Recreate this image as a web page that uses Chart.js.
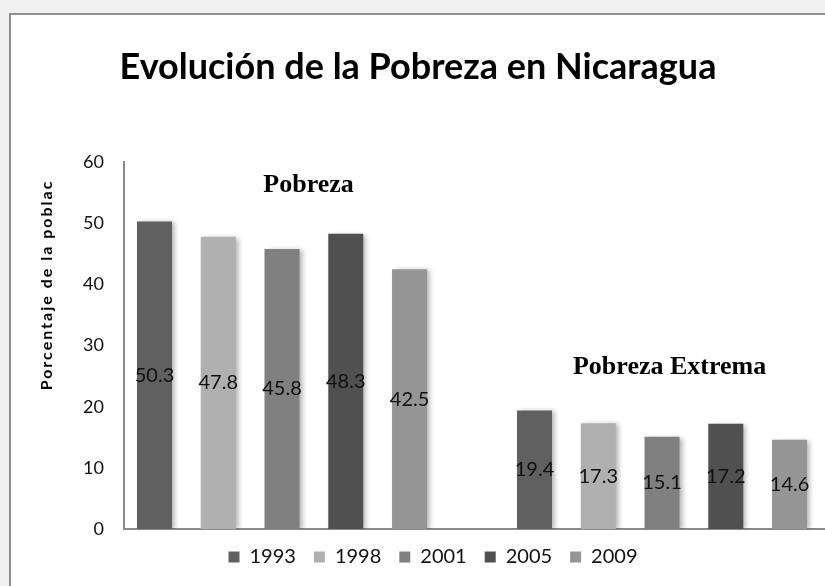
<!DOCTYPE html>
<html lang="es">
<head>
<meta charset="utf-8">
<title>Evolución de la Pobreza en Nicaragua</title>
<script src="https://cdn.jsdelivr.net/npm/chart.js@4.4.1/dist/chart.umd.min.js"></script>
<style>
    html, body {
        margin: 0;
        padding: 0;
        background: #f0f0f0;
        overflow: hidden;
    }
    #frame {
        position: absolute;
        left: 9px;
        top: 13px;
        width: 814px;
        height: 571px;
        border-top: 2px solid #8f8f8f;
        border-left: 2px solid #8f8f8f;
        background: #ffffff;
    }
</style>
</head>
<body>
<div id="frame">
    <canvas id="povertyChart"></canvas>
</div>
<script>
// Chart data
const groups = ['Pobreza', 'Pobreza Extrema'];
const years = ['1993', '1998', '2001', '2005', '2009'];
const values1993 = [50.3, 19.4];
const values1998 = [47.8, 17.3];
const values2001 = [45.8, 15.1];
const values2005 = [48.3, 17.2];
const values2009 = [42.5, 14.6];
const yTicks = [0, 10, 20, 30, 40, 50, 60];

const seriesValues = [values1993, values1998, values2001, values2005, values2009];
const barColors = ['#606060', '#b0b0b0', '#808080', '#505050', '#959595'];

// Group captions, placed in data space (group index, value)
const groupCaptions = [
    { text: groups[0], x: 0.07, y: 56.2 },
    { text: groups[1], x: 1.02, y: 26.5 }
];

const yTitle = 'Porcentaje de la poblac';

// Shadows, value labels inside bars and group captions
const barExtras = {
    id: 'barExtras',
    afterLayout(chart) {
        // legend sits a little right of centre in the original
        chart.legend.left += 15;
        chart.legend.right += 15;
    },
    beforeDatasetsDraw(chart) {
        const ctx = chart.ctx;
        ctx.save();
        ctx.shadowColor = 'rgba(0, 0, 0, 0.3)';
        ctx.shadowBlur = 5;
        ctx.shadowOffsetX = 3;
        ctx.shadowOffsetY = 1;
    },
    afterDatasetsDraw(chart) {
        const ctx = chart.ctx;
        ctx.restore();

        // values centred in each bar
        ctx.save();
        ctx.font = '20px Lato';
        ctx.fillStyle = '#111111';
        ctx.textAlign = 'center';
        ctx.textBaseline = 'middle';
        chart.data.datasets.forEach((ds, i) => {
            chart.getDatasetMeta(i).data.forEach((bar, j) => {
                const mid = (bar.y + bar.base) / 2;
                ctx.fillText(ds.data[j].y.toFixed(1), bar.x, mid);
            });
        });

        // group captions
        ctx.font = 'bold 26px "Liberation Serif"';
        ctx.fillStyle = '#000000';
        groupCaptions.forEach(c => {
            ctx.fillText(
                c.text,
                chart.scales.x.getPixelForValue(c.x),
                chart.scales.y.getPixelForValue(c.y)
            );
        });
        ctx.restore();
    },
    afterDraw(chart) {
        // rotated axis title
        const ctx = chart.ctx;
        ctx.save();
        ctx.translate(36, 270);
        ctx.rotate(-Math.PI / 2);
        ctx.font = 'bold 16px Lato';
        ctx.letterSpacing = '2px';
        ctx.fillStyle = '#000000';
        ctx.textAlign = 'center';
        ctx.textBaseline = 'middle';
        ctx.fillText(yTitle, 0, 0);
        ctx.restore();
    }
};

const povertyChart = new Chart(
    document.getElementById('povertyChart'),
    {
        type: 'bar',
        data: {
            datasets: years.map((year, i) => ({
                label: year,
                data: seriesValues[i].map((v, g) => ({ x: g, y: v })),
                backgroundColor: barColors[i],
                borderWidth: 0
            }))
        },
        options: {
            responsive: true,
            maintainAspectRatio: false,
            animation: false,
            categoryPercentage: 0.839,
            barPercentage: 0.549,
            layout: {
                padding: { left: 0, right: 0, top: 0, bottom: 9 }
            },
            scales: {
                x: {
                    type: 'linear',
                    min: -0.4158,
                    max: 1.4289,
                    offset: false,
                    // one tick per group so bar widths follow the group spacing
                    afterBuildTicks: scale => {
                        scale.ticks = groups.map((g, i) => ({ value: i }));
                    },
                    ticks: { display: false },
                    grid: { display: false, drawTicks: false },
                    border: { display: true, color: '#8a8a8a', width: 2 }
                },
                y: {
                    min: yTicks[0],
                    max: yTicks[yTicks.length - 1],
                    afterBuildTicks: scale => {
                        scale.ticks = yTicks.map(v => ({ value: v }));
                    },
                    afterFit: scale => {
                        scale.width = 113;
                    },
                    ticks: {
                        padding: 20,
                        color: '#111111',
                        font: { family: 'Lato', size: 18 }
                    },
                    grid: { display: false, drawTicks: false },
                    border: { display: true, color: '#8a8a8a', width: 2 }
                }
            },
            plugins: {
                title: {
                    display: true,
                    text: 'Evolución de la Pobreza en Nicaragua',
                    color: '#000000',
                    font: { family: 'Lato', size: 36, weight: 'bold' },
                    padding: { top: 31, bottom: 73 }
                },
                legend: {
                    position: 'bottom',
                    labels: {
                        boxWidth: 11,
                        boxHeight: 11,
                        padding: 18,
                        color: '#111111',
                        font: { family: 'Lato', size: 20 }
                    }
                },
                tooltip: { enabled: false }
            }
        },
        plugins: [barExtras]
    }
);
</script>
</body>
</html>
